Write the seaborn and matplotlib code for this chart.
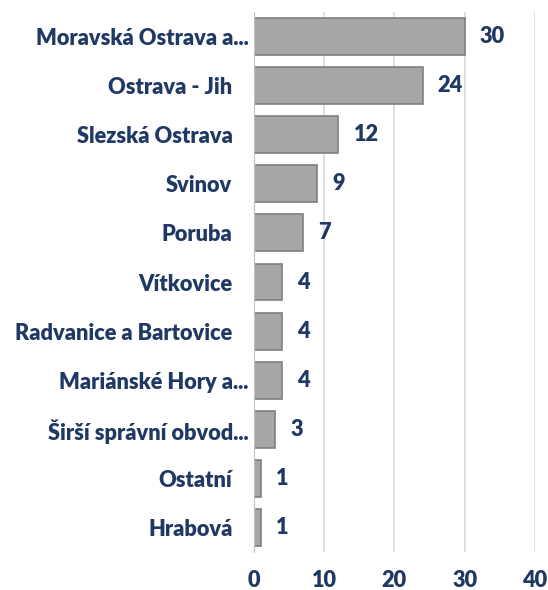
import matplotlib
matplotlib.use("Agg")
import matplotlib.pyplot as plt
import matplotlib.transforms as mtrans
import seaborn as sns
import pandas as pd

# ── data ─────────────────────────────────────────────
districts = [
    "Moravská Ostrava a...",
    "Ostrava - Jih",
    "Slezská Ostrava",
    "Svinov",
    "Poruba",
    "Vítkovice",
    "Radvanice a Bartovice",
    "Mariánské Hory a...",
    "Širší správní obvod...",
    "Ostatní",
    "Hrabová",
]
counts = [30, 24, 12, 9, 7, 4, 4, 4, 3, 1, 1]
x_ticks = [0, 10, 20, 30, 40]

df = pd.DataFrame({"district": districts, "count": counts})

NAVY = "#203864"
FS = 15.7

sns.set_style("white")
plt.rcParams["font.family"] = ["Lato", "DejaVu Sans"]

fig = plt.figure(figsize=(5.48, 5.90), dpi=100)
ax = fig.add_axes([0.4635, 0.064, 0.5125, 0.916])

sns.barplot(
    data=df, y="district", x="count", orient="h", ax=ax,
    color="#A6A6A6", edgecolor="#7F7F7F", linewidth=1.2,
    width=0.75, saturation=1,
)

for patch, val in zip(ax.patches, counts):
    ax.annotate(
        str(val),
        (patch.get_width(), patch.get_y() + patch.get_height() / 2),
        xytext=(11, 0), textcoords="offset points",
        ha="left", va="center", fontsize=FS, fontweight="heavy", color=NAVY,
    )

ax.set_xlim(0, 40)
ax.set_xticks(x_ticks)
ax.set_xlabel("")
ax.set_ylabel("")
ax.grid(axis="x", color="#D9D9D9", linewidth=1.2)
ax.set_axisbelow(True)
for side in ["top", "right", "bottom"]:
    ax.spines[side].set_visible(False)
ax.spines["left"].set_color("#BFBFBF")
ax.tick_params(axis="both", length=0)
ax.tick_params(axis="y", pad=4)
ax.tick_params(axis="x", pad=13)

for lbl in ax.get_yticklabels() + ax.get_xticklabels():
    lbl.set_fontsize(FS)
    lbl.set_fontweight("heavy")
    lbl.set_color(NAVY)

# Excel-style: non-truncated labels sit a little further from the axis
shift = mtrans.ScaledTranslation(-0.16, 0, fig.dpi_scale_trans)
for tick in ax.yaxis.get_major_ticks():
    if not tick.label1.get_text().endswith("..."):
        tick.label1.set_transform(tick.label1.get_transform() + shift)

fig.savefig("out.png", dpi=100)
